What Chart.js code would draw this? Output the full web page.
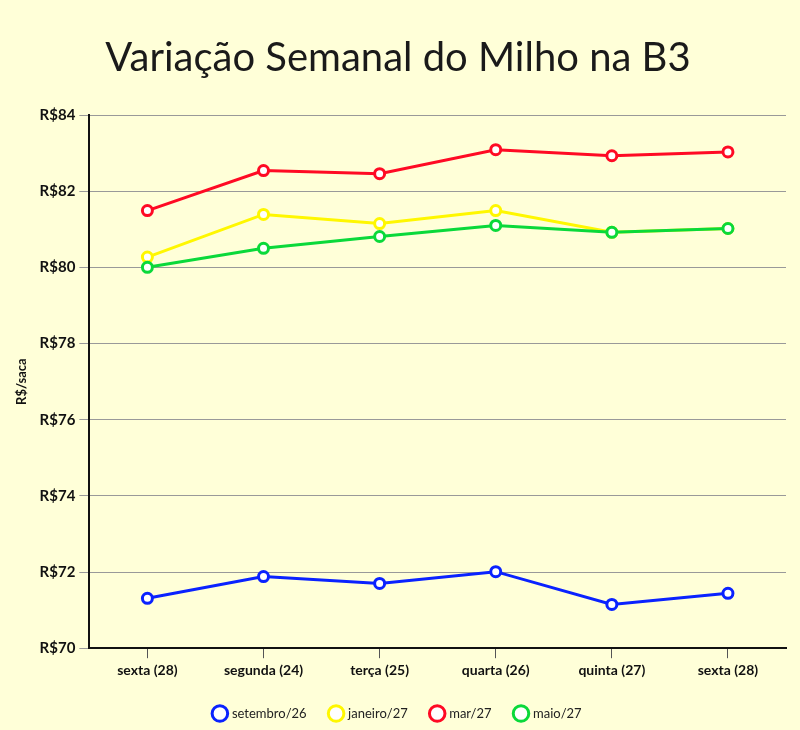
<!DOCTYPE html>
<html>
<head>
<meta charset="utf-8">
<script src="https://cdn.jsdelivr.net/npm/chart.js@4"></script>
<style>
  html, body { margin: 0; padding: 0; background: #ffffd8; }
  #wrap { width: 800px; height: 730px; }
</style>
</head>
<body>
<div id="wrap"><canvas id="milho"></canvas></div>
<script>
// dias da semana
var dias = ['sexta (28)', 'segunda (24)', 'terça (25)', 'quarta (26)', 'quinta (27)', 'sexta (28)'];

// preços por vencimento (R$/saca)
var setembro26 = [71.31, 71.88, 71.70, 72.01, 71.15, 71.44];
var janeiro27 = [80.27, 81.39, 81.15, 81.49, 80.92, 81.02];
var mar27 = [81.49, 82.54, 82.46, 83.09, 82.93, 83.03];
var maio27 = [80.00, 80.50, 80.81, 81.10, 80.92, 81.02];

var nomes = ['setembro/26', 'janeiro/27', 'mar/27', 'maio/27'];
var cores = ['#0a22ff', '#fff700', '#ff0a24', '#0ad93a'];
var series = [setembro26, janeiro27, mar27, maio27];
// ordem de desenho: maio por cima
var ordem = [1, 2, 1, 0];

var datasets = [];
for (var i = 0; i < series.length; i++) {
  datasets.push({
    label: nomes[i],
    data: series[i],
    order: ordem[i],
    borderColor: cores[i],
    backgroundColor: cores[i],
    pointBackgroundColor: '#ffffff',
    pointBorderColor: cores[i],
    pointBorderWidth: 3,
    pointRadius: 5,
    borderWidth: 3,
    tension: 0
  });
}

var fonte = 'Lato, "Open Sans", sans-serif';
var ctx = document.getElementById('milho');
var myChart = new Chart(ctx, {
  type: 'line',
  data: { labels: dias, datasets: datasets },
  options: {
    responsive: true,
    maintainAspectRatio: false,
    animation: false,
    layout: { padding: { left: 10, right: 14, top: 34, bottom: 0 } },
    plugins: {
      title: {
        display: true,
        text: 'Variação Semanal do Milho na B3',
        color: '#1a1a1a',
        font: { family: fonte, size: 40, weight: 'normal' },
        padding: { top: 0, bottom: 33 }
      },
      legend: {
        position: 'bottom',
        labels: {
          usePointStyle: true,
          pointStyle: 'circle',
          boxWidth: 11,
          boxHeight: 11,
          padding: 24,
          color: '#222',
          font: { family: fonte, size: 13 },
          sort: function (a, b) { return a.datasetIndex - b.datasetIndex; }
        }
      },
      tooltip: { enabled: false }
    },
    scales: {
      x: {
        offset: true,
        grid: { drawOnChartArea: false, drawTicks: true, tickLength: 10, color: '#555' },
        border: { color: '#111', width: 2 },
        ticks: { color: '#111', font: { family: fonte, size: 14, weight: 'bold' }, padding: 4 }
      },
      y: {
        min: 70,
        max: 84,
        grid: { color: '#999', tickLength: 10, lineWidth: 1 },
        border: { color: '#111', width: 2 },
        ticks: {
          stepSize: 2,
          color: '#111',
          padding: 4,
          font: { family: fonte, size: 15, weight: 'bold' },
          callback: function (v) { return 'R$' + v; }
        },
        title: {
          display: true,
          text: 'R$/saca',
          color: '#111',
          font: { family: fonte, size: 13, weight: 'bold' },
          padding: { bottom: 6 }
        }
      }
    }
  }
});
</script>
</body>
</html>
